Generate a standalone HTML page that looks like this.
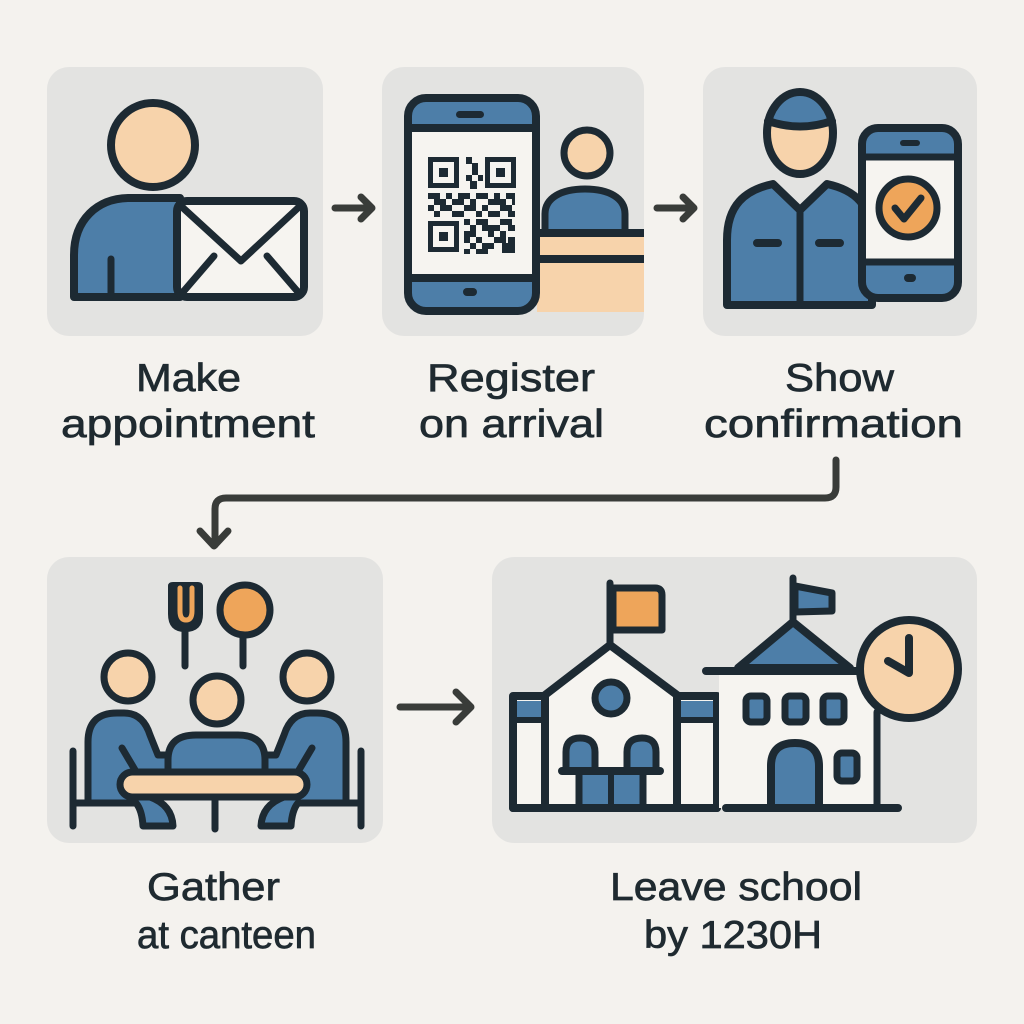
<!DOCTYPE html>
<html><head><meta charset="utf-8"><style>
html,body{margin:0;padding:0;background:#f4f2ee;}
svg{display:block;}
</style></head><body>
<svg width="1024" height="1024" viewBox="0 0 1024 1024" xmlns="http://www.w3.org/2000/svg">
<defs>
<clipPath id="hc"><ellipse cx="800" cy="133" rx="33" ry="41"/></clipPath>
</defs>
<rect width="1024" height="1024" fill="#f4f2ee"/>
<!-- panels -->
<g fill="#e3e3e1">
<rect x="47" y="67" width="276" height="269" rx="22"/>
<rect x="382" y="67" width="262" height="269" rx="22"/>
<rect x="703" y="67" width="274" height="269" rx="22"/>
<rect x="47" y="557" width="336" height="286" rx="22"/>
<rect x="492" y="557" width="485" height="286" rx="22"/>
</g>

<g stroke="#1d2a33" stroke-linecap="round" stroke-linejoin="round">
<!-- PANEL 1 -->
<path d="M74,297 L74,255 C74,220 97,198 130,198 L180,198 L180,297 Z" fill="#4d7ea8" stroke-width="8"/>
<path d="M111,295 L111,259" stroke-width="7" fill="none"/>
<rect x="177" y="201" width="127" height="96" rx="10" fill="#f6f4f0" stroke-width="8"/>
<path d="M182,207 L241,261 L299,207" fill="none" stroke-width="7"/>
<path d="M183,292 L214,256 M298,292 L267,256" fill="none" stroke-width="7"/>
<circle cx="153" cy="145" r="42" fill="#f7d3ab" stroke-width="8"/>

<!-- PANEL 2 -->
<rect x="537" y="230" width="107" height="82" fill="#f7d3ab" stroke="none"/>
<path d="M537,233 L644,233 M537,259 L644,259" stroke-width="8" stroke-linecap="butt" fill="none"/>
<path d="M545,229 L545,214 C545,198 561,189 585,189 C609,189 625,198 625,214 L625,229" fill="#4d7ea8" stroke-width="7"/>
<circle cx="587" cy="153" r="23" fill="#f7d3ab" stroke-width="7"/>
<rect x="408" y="98" width="128" height="213" rx="18" fill="#4d7ea8" stroke-width="8"/>
<rect x="412" y="128" width="120" height="150" fill="#f6f4f0" stroke="none"/>
<path d="M412,128 L532,128 M412,278 L532,278" stroke-width="8" stroke-linecap="butt"/>
<rect x="456" y="111" width="28" height="7" rx="3.5" fill="#1d2a33" stroke="none"/>
<rect x="463" y="288" width="14" height="8" rx="4" fill="#1d2a33" stroke="none"/>
<!-- QR -->
<g fill="none" stroke-width="5" stroke-linejoin="miter" stroke-linecap="butt">
<rect x="430.5" y="159.5" width="26" height="26"/>
<rect x="487.5" y="159.5" width="26" height="26"/>
<rect x="430.5" y="223.5" width="26" height="26"/>
</g>
<g fill="#1d2a33" stroke="none">
<rect x="439" y="168" width="9" height="9"/>
<rect x="496" y="168" width="9" height="9"/>
<rect x="439" y="232" width="9" height="9"/>
<rect x="466" y="157" width="6" height="7"/><rect x="472" y="163" width="6" height="12"/><rect x="466" y="175" width="6" height="6"/><rect x="478" y="175" width="5" height="6"/><rect x="470" y="181" width="7" height="8"/>
<rect x="428" y="193" width="12" height="6"/><rect x="446" y="193" width="6" height="6"/><rect x="458" y="193" width="12" height="6"/><rect x="476" y="193" width="12" height="6"/><rect x="494" y="193" width="6" height="6"/><rect x="506" y="193" width="9" height="6"/>
<rect x="434" y="199" width="12" height="6"/><rect x="452" y="199" width="12" height="6"/><rect x="470" y="199" width="6" height="6"/><rect x="488" y="199" width="18" height="6"/><rect x="512" y="199" width="3" height="6"/>
<rect x="428" y="205" width="6" height="6"/><rect x="440" y="205" width="12" height="6"/><rect x="464" y="205" width="12" height="6"/><rect x="482" y="205" width="6" height="6"/><rect x="500" y="205" width="12" height="6"/>
<rect x="434" y="211" width="6" height="6"/><rect x="452" y="211" width="12" height="6"/><rect x="476" y="211" width="6" height="6"/><rect x="488" y="211" width="12" height="6"/><rect x="508" y="211" width="7" height="6"/>
<rect x="464" y="219" width="6" height="6"/><rect x="476" y="219" width="12" height="6"/><rect x="500" y="219" width="12" height="6"/>
<rect x="470" y="225" width="6" height="6"/><rect x="482" y="225" width="18" height="6"/><rect x="508" y="225" width="7" height="6"/>
<rect x="464" y="231" width="12" height="6"/><rect x="488" y="231" width="6" height="6"/><rect x="500" y="231" width="6" height="6"/>
<rect x="464" y="237" width="6" height="6"/><rect x="476" y="237" width="6" height="6"/><rect x="494" y="237" width="12" height="6"/><rect x="508" y="237" width="7" height="6"/>
<rect x="470" y="243" width="6" height="6"/><rect x="482" y="243" width="12" height="6"/><rect x="502" y="243" width="13" height="10"/>
<rect x="464" y="249" width="6" height="5"/><rect x="476" y="249" width="12" height="5"/>
</g>

<!-- PANEL 3 -->
<path d="M727,305 L727,240 C727,205 745,190 773,184 L800,210 L827,184 C855,190 872,205 872,240 L872,305 Z" fill="#4d7ea8" stroke-width="8"/>
<path d="M800,212 L800,303" stroke-width="7"/>
<path d="M757,243 L778,243 M819,243 L840,243" stroke-width="8"/>
<ellipse cx="800" cy="133" rx="33" ry="41" fill="#f7d3ab" stroke="none"/>
<path d="M760,85 L840,85 L840,121 Q800,133 760,121 Z" fill="#4d7ea8" stroke="none" clip-path="url(#hc)"/>
<ellipse cx="800" cy="133" rx="33" ry="41" fill="none" stroke-width="8"/>
<path d="M768,121 Q800,132 832,121" fill="none" stroke-width="8"/>
<rect x="862" y="128" width="96" height="170" rx="16" fill="#4d7ea8" stroke-width="8"/>
<rect x="866" y="157" width="88" height="105" fill="#f6f4f0" stroke="none"/>
<path d="M866,157 L954,157 M866,262 L954,262" stroke-width="7" stroke-linecap="butt"/>
<rect x="900" y="140" width="20" height="6" rx="3" fill="#1d2a33" stroke="none"/>
<rect x="904" y="274" width="12" height="8" rx="4" fill="#1d2a33" stroke="none"/>
<circle cx="908" cy="208" r="29" fill="#eea55a" stroke-width="7"/>
<path d="M895,208 L904,219 L921,198" fill="none" stroke-width="7"/>

<!-- PANEL 4 -->
<path d="M168,586 Q168,582 173,582 L198,582 Q203,582 203,587 L203,614 Q203,632 185,632 Q168,632 168,614 Z" fill="#1d2a33" stroke="none"/>
<path d="M180,588 L180,611 Q180,620 186,620 Q192,620 192,611 L192,588" fill="none" stroke="#eea55a" stroke-width="5"/>
<path d="M185,632 L185,666" stroke-width="7"/>
<path d="M243,637 L243,666" stroke-width="7"/>
<circle cx="245" cy="610" r="25" fill="#eea55a" stroke-width="7"/>
<path d="M73,751 L73,826 M73,803 L90,803" stroke-width="7" fill="none"/>
<path d="M361,751 L361,826 M361,803 L344,803" stroke-width="7" fill="none"/>
<g id="lb">
<path d="M88,803 L88,742 Q88,713 117,713 L124,713 Q143,713 150,735 L158,755 L180,755 L180,797 L150,797 Q172,805 173,826 L143,826 Q142,810 136,803 Z" fill="#4d7ea8" stroke-width="7"/>
<path d="M122,748 L138,775" stroke-width="7"/>
</g>
<g transform="translate(434,0) scale(-1,1)">
<path d="M88,803 L88,742 Q88,713 117,713 L124,713 Q143,713 150,735 L158,755 L180,755 L180,797 L150,797 Q172,805 173,826 L143,826 Q142,810 136,803 Z" fill="#4d7ea8" stroke-width="7"/>
<path d="M122,748 L138,775" stroke-width="7"/>
</g>
<path d="M168,780 L168,760 Q168,735 196,735 L238,735 Q265,735 265,760 L265,780" fill="#4d7ea8" stroke-width="7"/>
<circle cx="128" cy="677" r="24" fill="#f7d3ab" stroke-width="7"/>
<circle cx="307" cy="677" r="24" fill="#f7d3ab" stroke-width="7"/>
<circle cx="217" cy="700" r="24" fill="#f7d3ab" stroke-width="7"/>
<rect x="120" y="772" width="187" height="25" rx="12.5" fill="#f7d3ab" stroke-width="7"/>
<path d="M215,800 L215,829" stroke-width="7"/>

<!-- PANEL 5 left building -->
<path d="M610,645 L610,583" stroke-width="7"/>
<path d="M613,588 L655,588 Q662,588 662,595 L662,630 L613,630 Z" fill="#eea55a" stroke-width="7"/>
<rect x="513" y="696" width="32" height="112" fill="#f6f4f0" stroke-width="8" stroke-linejoin="round"/>
<rect x="677" y="696" width="40" height="112" fill="#f6f4f0" stroke-width="8"/>
<rect x="517" y="701" width="24" height="16" fill="#4d7ea8" stroke="none"/>
<rect x="681" y="701" width="32" height="16" fill="#4d7ea8" stroke="none"/>
<path d="M515,720 L543,720 M679,720 L715,720" stroke-width="6" stroke-linecap="butt"/>
<path d="M545,808 L545,695 L610,645 L677,695 L677,808" fill="#f6f4f0" stroke-width="8"/>
<circle cx="611" cy="698" r="16" fill="#4d7ea8" stroke-width="7"/>
<path d="M566,771 L566,752 Q566,738 580,738 Q595,738 595,752 L595,771 Z" fill="#4d7ea8" stroke-width="7"/>
<path d="M627,771 L627,752 Q627,738 642,738 Q656,738 656,752 L656,771 Z" fill="#4d7ea8" stroke-width="7"/>
<rect x="579" y="771" width="64" height="37" fill="#4d7ea8" stroke-width="7"/>
<path d="M611,771 L611,808" stroke-width="6"/>
<path d="M562,771 L660,771" stroke-width="8"/>
<path d="M513,808 L717,808" stroke-width="8"/>

<!-- right building -->
<rect x="719" y="672" width="158" height="136" fill="#f6f4f0" stroke="none"/>
<path d="M793,622 L793,578" stroke-width="7"/>
<path d="M795,586 L832,593 L832,611 L795,612 Z" fill="#4d7ea8" stroke-width="7"/>
<path d="M738,668 L793,622 L850,668 Z" fill="#4d7ea8" stroke-width="8"/>
<path d="M706,671 L858,671" stroke-width="8"/>
<path d="M877,712 L877,808" stroke-width="7"/>
<rect x="746" y="696" width="21" height="26" rx="5" fill="#4d7ea8" stroke-width="7"/>
<rect x="785" y="696" width="21" height="26" rx="5" fill="#4d7ea8" stroke-width="7"/>
<rect x="823" y="696" width="21" height="26" rx="5" fill="#4d7ea8" stroke-width="7"/>
<path d="M771,808 L771,766 Q771,743 795,743 Q819,743 819,766 L819,808 Z" fill="#4d7ea8" stroke-width="8"/>
<rect x="837" y="753" width="20" height="28" rx="5" fill="#4d7ea8" stroke-width="7"/>
<path d="M726,808 L898,808" stroke-width="8"/>
<circle cx="909" cy="669" r="49" fill="#f7d3ab" stroke-width="8"/>
<path d="M909,638 L909,673 L888,661" fill="none" stroke-width="8"/>
</g>

<!-- arrows -->
<g stroke="#393c39" stroke-width="7" fill="none" stroke-linecap="round" stroke-linejoin="round">
<path d="M335,208 L371,208 M361,197 L372,208 L361,219"/>
<path d="M657,208 L693,208 M683,197 L694,208 L683,219"/>
<path d="M400,707 L470,707 M456,692 L471,707 L456,722"/>
<path d="M836,460 L836,487 Q836,498 825,498 L226,498 Q215,498 215,509 L215,545"/>
<path d="M200,531 L214,546 L228,531"/>
</g>

<!-- labels -->
<g font-family="'Liberation Sans', Arial, sans-serif" font-size="39" fill="#1f2a30" stroke="#1f2a30" stroke-width="0.7" lengthAdjust="spacingAndGlyphs">
<text x="136" y="391" textLength="105" lengthAdjust="spacingAndGlyphs">Make</text>
<text x="61" y="437" textLength="254" lengthAdjust="spacingAndGlyphs">appointment</text>
<text x="427" y="391" textLength="168" lengthAdjust="spacingAndGlyphs">Register</text>
<text x="419" y="437" textLength="185" lengthAdjust="spacingAndGlyphs">on arrival</text>
<text x="785" y="391" textLength="109" lengthAdjust="spacingAndGlyphs">Show</text>
<text x="704" y="437" textLength="259" lengthAdjust="spacingAndGlyphs">confirmation</text>
<text x="147" y="900" textLength="133" lengthAdjust="spacingAndGlyphs">Gather</text>
<text x="137" y="948" textLength="179" lengthAdjust="spacingAndGlyphs">at canteen</text>
<text x="610" y="900" textLength="252" lengthAdjust="spacingAndGlyphs">Leave school</text>
<text x="644" y="948" textLength="178" lengthAdjust="spacingAndGlyphs">by 1230H</text>
</g>
</svg>
</body></html>
